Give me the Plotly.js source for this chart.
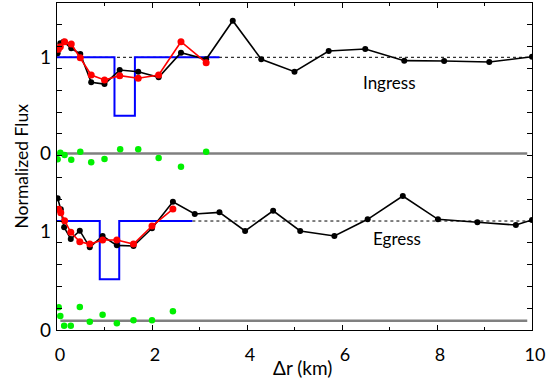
<!DOCTYPE html>
<html>
<head>
<meta charset="utf-8">
<script src="https://cdn.plot.ly/plotly-3.0.1.min.js"></script>
<style>html,body{margin:0;padding:0;background:#fff;}#chart{width:547px;height:383px;}</style>
</head>
<body>
<div id="chart"></div>
<script>
// ---------- Ingress (top panel) ----------
const ingBlackX = [0.013,0.07,0.14,0.30,0.49,0.72,1.00,1.32,1.71,2.14,2.61,3.14,3.70,4.30,5.00,5.72,6.49,7.31,8.15,9.10,10.0];
const ingBlackY = [1.042,1.146,1.162,1.094,1.034,0.740,0.722,0.868,0.850,0.792,1.048,0.979,1.380,0.979,0.850,1.066,1.086,0.965,0.962,0.951,1.006];
const ingRedX = [0.03,0.07,0.16,0.30,0.49,0.72,1.00,1.32,1.71,2.14,2.61,3.14];
const ingRedY = [1.083,1.110,1.162,1.138,0.996,0.816,0.764,0.809,0.782,0.816,1.162,0.944];
const ingGreenX = [0.013,0.07,0.16,0.30,0.49,0.72,1.00,1.33,1.71,2.14,2.61,3.14];
const ingGreenY = [-0.060,0.008,-0.016,-0.064,0.019,-0.091,-0.057,0.044,0.044,-0.047,-0.137,0.019];
const ingModelX = [0,1.21,1.64,3.42];
const ingModelY = [1,0.393,1,1];
const ingZeroX = [0,9.9];
const ingUnitX = [0,10];

// ---------- Egress (bottom panel) ----------
const egrBlackX = [0.013,0.08,0.15,0.29,0.48,0.69,0.96,1.26,1.61,2.00,2.44,2.90,3.42,3.96,4.55,5.12,5.84,6.54,7.28,8.02,8.85,9.66,10.0];
const egrBlackY = [1.228,1.117,0.937,0.819,0.903,0.736,0.850,0.756,0.749,0.927,1.194,1.070,1.087,0.900,1.103,0.900,0.850,1.017,1.251,1.017,0.987,0.960,1.010];
const egrRedX = [0.035,0.08,0.16,0.29,0.48,0.69,0.96,1.26,1.61,2.00,2.44];
const egrRedY = [1.117,1.083,1.003,0.887,0.792,0.769,0.809,0.809,0.769,0.950,1.120];
const egrGreenX = [0.035,0.07,0.15,0.29,0.48,0.69,0.96,1.26,1.61,2.00,2.44];
const egrGreenY = [0.134,0.047,-0.05,-0.05,0.137,-0.01,0.06,-0.026,0.004,0.004,0.094];
const egrModelX = [0,0.90,1.31,2.85];
const egrModelY = [1,0.415,1,1];
const egrZeroX = [0.07,9.9];
const egrUnitX = [2.85,10];

const xTicks = [0,2,4,6,8,10];
const yTickVals = [0,1];
const yTickText = ['0','1'];

const FONT = 'Lato, "Open Sans", sans-serif';

function panel(yax, zeroX, unitX, modelX, modelY, bx, by, rx, ry, gx, gy) {
  return [
    {x: zeroX, y: [0,0], xaxis:'x', yaxis: yax, mode:'lines', line:{color:'#808080', width:2.5}, hoverinfo:'skip'},
    {x: unitX, y: [1,1], xaxis:'x', yaxis: yax, mode:'lines', line:{color:'#000', width:1, dash:'dot'}, hoverinfo:'skip'},
    {x: modelX, y: modelY, xaxis:'x', yaxis: yax, mode:'lines', line:{color:'#0000ff', width:2, shape:'hv'}},
    {x: bx, y: by, xaxis:'x', yaxis: yax, mode:'lines+markers', line:{color:'#000', width:1.6}, marker:{color:'#000', size:6}},
    {x: rx, y: ry, xaxis:'x', yaxis: yax, mode:'lines+markers', line:{color:'#ff0000', width:1.6}, marker:{color:'#ff0000', size:7}},
    {x: gx, y: gy, xaxis:'x', yaxis: yax, mode:'markers', marker:{color:'#00f000', size:6.5}}
  ];
}

// invisible trace so the frame subplot (x,y) owns data
const frameTrace = {x:[0,10], y:[0,15], xaxis:'x', yaxis:'y', mode:'markers', marker:{opacity:0}, hoverinfo:'skip'};

const data = [frameTrace].concat(
  panel('y2', ingZeroX, ingUnitX, ingModelX, ingModelY, ingBlackX, ingBlackY, ingRedX, ingRedY, ingGreenX, ingGreenY),
  panel('y3', egrZeroX, egrUnitX, egrModelX, egrModelY, egrBlackX, egrBlackY, egrRedX, egrRedY, egrGreenX, egrGreenY)
);

const layout = {
  width: 547, height: 383,
  margin: {l:57, r:15, t:3, b:53},
  paper_bgcolor:'#fff', plot_bgcolor:'#fff',
  showlegend: false,
  font: {family: FONT, color:'#000', size:14},
  xaxis: {
    range:[0,10], tickvals: xTicks, ticks:'inside', ticklen:5, tickcolor:'#000',
    minor:{ticks:'inside', dtick:1, ticklen:3, tickcolor:'#000'},
    showline:true, linecolor:'#000', linewidth:1.3, mirror:'ticks',
    showgrid:false, zeroline:false, anchor:'y',
    tickfont:{size:18, family:FONT}, ticklabelstandoff:8, ticklabelshift:3
  },
  yaxis: {
    range:[0,15], tickmode:'linear', tick0:0, dtick:1, ticks:'inside', ticklen:5, tickcolor:'#000',
    showticklabels:false, showline:true, linecolor:'#000', linewidth:1.3, mirror:'ticks',
    showgrid:false, zeroline:false, anchor:'x'
  },
  yaxis2: {
    overlaying:'y', anchor:'x', side:'left', range:[-1.835,1.5645],
    tickvals:yTickVals, ticktext:yTickText, ticks:'', showline:false, showgrid:false, zeroline:false,
    tickfont:{size:19, family:FONT}, ticklabelstandoff:5
  },
  yaxis3: {
    overlaying:'y', anchor:'x', side:'left', range:[-0.093,3.1866],
    tickvals:yTickVals, ticktext:yTickText, ticks:'', showline:false, showgrid:false, zeroline:false,
    tickfont:{size:19, family:FONT}, ticklabelstandoff:5, ticklabelshift:10
  },
  annotations: [
    {text:'Ingress', x:7.0, y:0.736, xref:'x', yref:'y2', showarrow:false, font:{size:17, family:FONT}},
    {text:'Egress', x:7.16, y:0.826, xref:'x', yref:'y3', showarrow:false, font:{size:17, family:FONT}},
    {text:'Δr (km)', x:0.5, y:0, xref:'paper', yref:'paper', xanchor:'center', yanchor:'middle',
     xshift:8, yshift:-37, showarrow:false, font:{size:19, family:FONT}},
    {text:'Normalized Flux', x:0, y:0.5, xref:'paper', yref:'paper', xanchor:'center', yanchor:'middle',
     xshift:-36, textangle:-90, showarrow:false, font:{size:17.5, family:FONT}}
  ]
};

Plotly.newPlot('chart', data, layout, {displayModeBar:false, staticPlot:true});
</script>
</body>
</html>
